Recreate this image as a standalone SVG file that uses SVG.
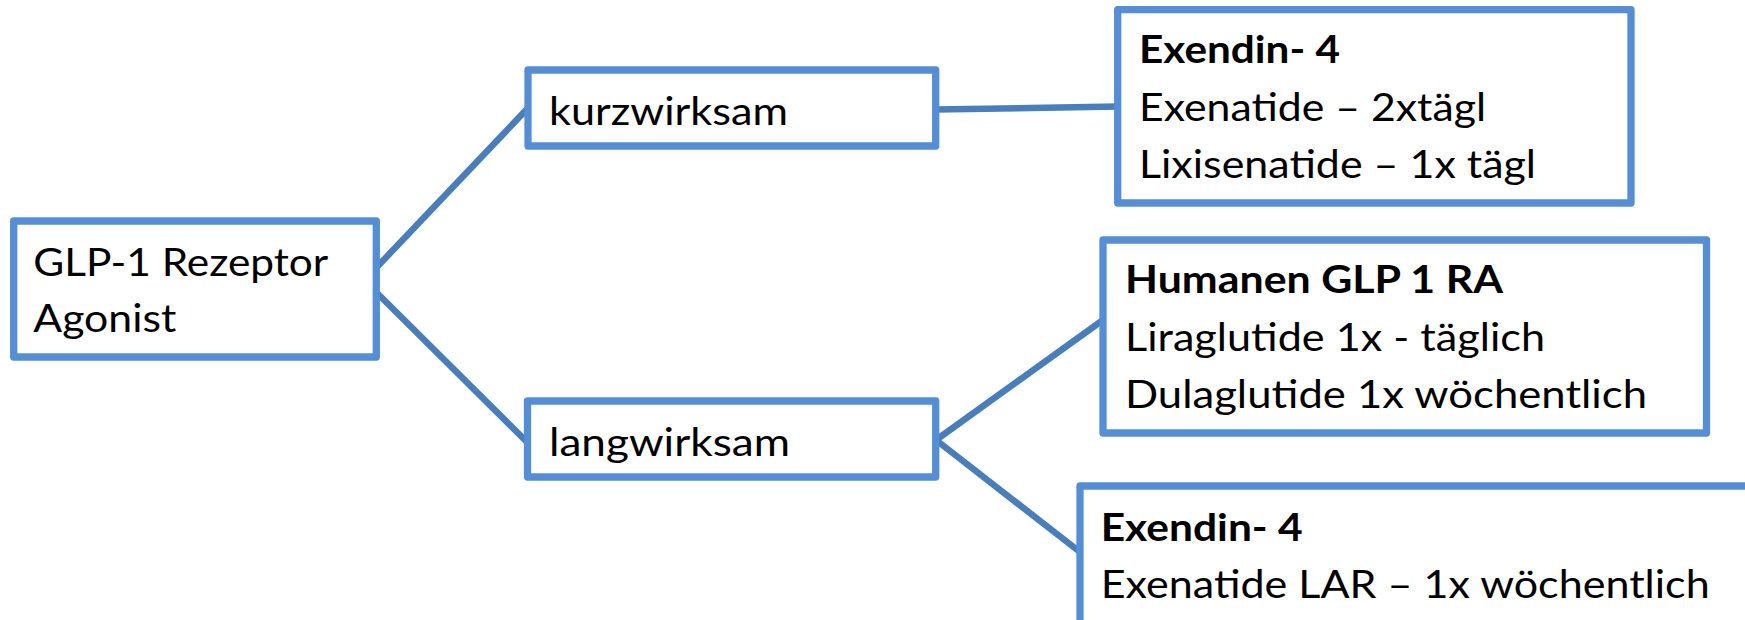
<svg xmlns="http://www.w3.org/2000/svg" width="1745" height="620" viewBox="0 0 1745 620">
  <style>
    .box { fill: #ffffff; stroke: #558ED5; stroke-width: 7.3; stroke-linejoin: round; }
    .conn { stroke: #4A7EBB; stroke-width: 6.5; fill: none; }
    .t { font-family: Lato, "Open Sans", "Liberation Sans", sans-serif; font-size: 38px; fill: #000000; }
    .b { font-weight: bold; }
  </style>
  <g id="connectors">
    <line class="conn" x1="376" y1="268" x2="528" y2="108"/>
    <line class="conn" x1="376" y1="292" x2="528" y2="443"/>
    <line class="conn" x1="936" y1="109.5" x2="1118" y2="106.5"/>
    <line class="conn" x1="936" y1="440" x2="1103" y2="320"/>
    <line class="conn" x1="936" y1="440" x2="1080" y2="552"/>
  </g>
  <g id="root">
    <rect class="box" x="13.7" y="221" width="362.6" height="136"/>
    <text class="t" x="33.3" y="276" textLength="295" lengthAdjust="spacingAndGlyphs">GLP-1 Rezeptor</text>
    <text class="t" x="33.3" y="331.7" textLength="143" lengthAdjust="spacingAndGlyphs">Agonist</text>
  </g>
  <g id="kurzwirksam">
    <rect class="box" x="528" y="70" width="407.7" height="76"/>
    <text class="t" x="549" y="125" textLength="239" lengthAdjust="spacingAndGlyphs">kurzwirksam</text>
  </g>
  <g id="langwirksam">
    <rect class="box" x="527.5" y="401" width="408.2" height="76"/>
    <text class="t" x="549" y="456" textLength="241" lengthAdjust="spacingAndGlyphs">langwirksam</text>
  </g>
  <g id="exendin-kurz">
    <rect class="box" x="1117.7" y="9.7" width="513.3" height="193.3"/>
    <text class="t b" x="1139" y="63.3" textLength="201" lengthAdjust="spacingAndGlyphs">Exendin- 4</text>
    <text class="t" x="1139" y="120.7" textLength="347" lengthAdjust="spacingAndGlyphs">Exenatide – 2xtägl</text>
    <text class="t" x="1139" y="178.3" textLength="397" lengthAdjust="spacingAndGlyphs">Lixisenatide – 1x tägl</text>
  </g>
  <g id="humanen">
    <rect class="box" x="1103" y="240" width="603.5" height="193"/>
    <text class="t b" x="1125" y="293.3" textLength="378" lengthAdjust="spacingAndGlyphs">Humanen GLP 1 RA</text>
    <text class="t" x="1125" y="351" textLength="420" lengthAdjust="spacingAndGlyphs">Liraglutide 1x - täglich</text>
    <text class="t" x="1125" y="408.3" textLength="522" lengthAdjust="spacingAndGlyphs">Dulaglutide 1x wöchentlich</text>
  </g>
  <g id="exendin-lang">
    <rect class="box" x="1080" y="486" width="720" height="200"/>
    <text class="t b" x="1100.7" y="540.7" textLength="202" lengthAdjust="spacingAndGlyphs">Exendin- 4</text>
    <text class="t" x="1100.7" y="598.3" textLength="609" lengthAdjust="spacingAndGlyphs">Exenatide LAR – 1x wöchentlich</text>
  </g>
</svg>
